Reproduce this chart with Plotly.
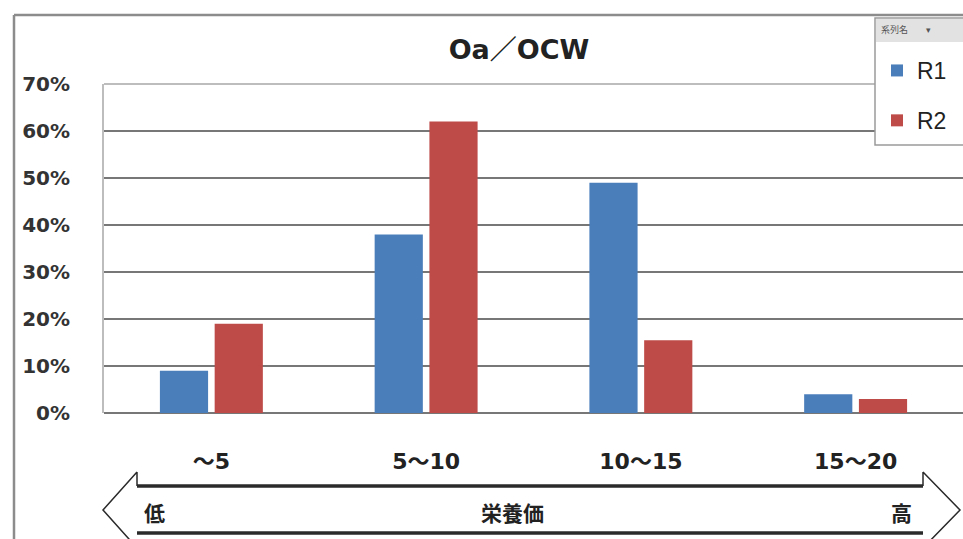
import plotly.graph_objects as go

categories = ["～5", "5～10", "10～15", "15～20"]
series_names = ["R1", "R2"]
r1_values = [0.09, 0.38, 0.49, 0.04]
r2_values = [0.19, 0.62, 0.155, 0.03]
y_ticks = [0, 0.1, 0.2, 0.3, 0.4, 0.5, 0.6, 0.7]
y_tick_labels = ["0%", "10%", "20%", "30%", "40%", "50%", "60%", "70%"]
title_text = "Oa／OCW"
legend_header = "系列名"
axis_caption = "栄養価"
low_label = "低"
high_label = "高"

colors = ["#4A7EBB", "#BE4B48"]

W, H = 963, 539
L, R, T, B = 104, 963, 84, 413

def px(x):
    return (x - L) / (R - L)

def py(y):
    return (B - y) / (B - T)

CJK = "Noto Sans CJK JP"
NUM = "DejaVu Sans, Noto Sans CJK JP"

fig = go.Figure()
for name, vals, c in zip(series_names, [r1_values, r2_values], colors):
    fig.add_trace(go.Bar(x=categories, y=vals, name=name, marker=dict(color=c, line=dict(width=0)),
                         legendgroup=name))

DARK = "#2a2a2a"
shapes = []
# outer frame (left and top)
shapes.append(dict(type="line", xref="paper", yref="paper", x0=px(14), x1=px(14), y0=py(15), y1=py(545),
                   line=dict(color="#8c8c8c", width=2.5)))
shapes.append(dict(type="line", xref="paper", yref="paper", x0=px(14), x1=px(965), y0=py(15), y1=py(15),
                   line=dict(color="#8c8c8c", width=2.5)))
# plot-area top border
shapes.append(dict(type="line", xref="paper", yref="paper", x0=0, x1=1, y0=1, y1=1,
                   line=dict(color="#bdbdbd", width=2)))
# double-headed arrow
shapes.append(dict(type="line", xref="paper", yref="paper", x0=px(137), x1=px(923), y0=py(486), y1=py(486),
                   line=dict(color=DARK, width=3.5)))
shapes.append(dict(type="line", xref="paper", yref="paper", x0=px(137), x1=px(923), y0=py(533), y1=py(533),
                   line=dict(color=DARK, width=3.5)))
left_head = "M {a},{b} L {a},{g} M {a},{b} L {c},{d} L {e},{f}".format(
    a=px(137), b=py(472), g=py(486), c=px(103), d=py(510), e=px(137), f=py(548))
right_head = "M {a},{b} L {a},{g} M {a},{b} L {c},{d} L {e},{f}".format(
    a=px(923), b=py(472), g=py(486), c=px(960), d=py(510), e=px(923), f=py(548))
shapes.append(dict(type="path", xref="paper", yref="paper", path=left_head, line=dict(color=DARK, width=1.5)))
shapes.append(dict(type="path", xref="paper", yref="paper", path=right_head, line=dict(color=DARK, width=1.5)))
# legend box and header band
shapes.append(dict(type="rect", xref="paper", yref="paper", x0=px(875), x1=px(970), y0=py(18), y1=py(145),
                   fillcolor="white", line=dict(color="#9a9a9a", width=1.5), layer="above"))
shapes.append(dict(type="rect", xref="paper", yref="paper", x0=px(876), x1=px(970), y0=py(19), y1=py(42),
                   fillcolor="#e2e2e2", line=dict(width=0), layer="above"))

annotations = [
    dict(text=low_label, x=px(154), y=py(512), xref="paper", yref="paper", showarrow=False,
         font=dict(family=CJK, size=21, color="#222", weight="bold"), xanchor="center", yanchor="middle"),
    dict(text=axis_caption, x=px(512), y=py(512), xref="paper", yref="paper", showarrow=False,
         font=dict(family=CJK, size=21, color="#222", weight="bold"), xanchor="center", yanchor="middle"),
    dict(text=high_label, x=px(901), y=py(512), xref="paper", yref="paper", showarrow=False,
         font=dict(family=CJK, size=21, color="#222", weight="bold"), xanchor="center", yanchor="middle"),
    dict(text=legend_header + "　　▾", x=px(879), y=py(30), xref="paper", yref="paper", showarrow=False,
         font=dict(family=CJK, size=9, color="#555"), xanchor="left", yanchor="middle"),
]

fig.update_layout(
    width=W, height=H,
    margin=dict(l=L, r=W - R, t=T, b=H - B, pad=0),
    paper_bgcolor="white", plot_bgcolor="white",
    bargap=0.49, bargroupgap=0.12,
    barmode="group",
    title=dict(text=title_text, x=519 / W, y=1 - 50 / H, xref="container", yref="container",
               xanchor="center", yanchor="middle",
               font=dict(family=NUM, size=27, color="#222", weight="bold")),
    font=dict(family=CJK, color="#333"),
    xaxis=dict(showgrid=False, showline=False, ticks="", ticklabelstandoff=33,
               tickfont=dict(family=NUM, size=22, color="#222", weight="bold")),
    yaxis=dict(range=[0, 0.7], tickvals=y_ticks, ticktext=y_tick_labels, showgrid=True,
               gridcolor="#777777", gridwidth=2, zeroline=True, zerolinecolor="#777777", zerolinewidth=2,
               showline=True, linecolor="#bdbdbd", linewidth=2, mirror=False, ticks="",
               ticklabelstandoff=28,
               tickfont=dict(family=NUM, size=20, color="#333", weight="bold")),
    legend=dict(x=px(877), y=py(49), xanchor="left", yanchor="top", xref="paper", yref="paper",
                bgcolor="rgba(0,0,0,0)", borderwidth=0,
                font=dict(family="Liberation Sans", size=23, color="#222"),
                traceorder="grouped", tracegroupgap=17, itemwidth=30),
    shapes=shapes,
    annotations=annotations,
)

fig.write_html("out.html", config={"displayModeBar": False},
               post_script="document.body.style.margin='0px';")
